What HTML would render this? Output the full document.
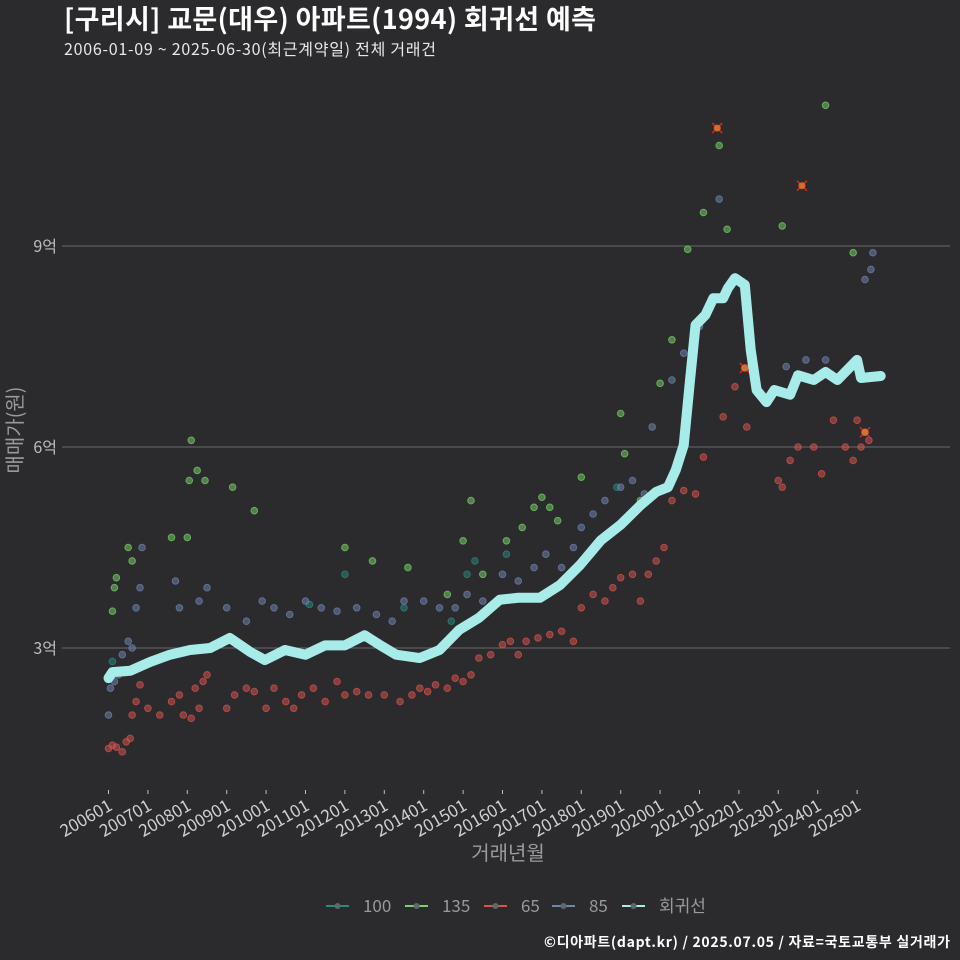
<!DOCTYPE html>
<html><head><meta charset="utf-8"><style>
html,body{margin:0;padding:0;background:#2b2b2d;}
svg{display:block;font-family:"Noto Sans CJK KR","Liberation Sans",sans-serif;}
</style></head><body>
<svg id="chart" width="960" height="960">
<rect width="960" height="960" fill="#2b2b2d"/>
<text x="64" y="29" font-size="27" font-weight="bold" fill="#ffffff" textLength="532">[구리시] 교문(대우) 아파트(1994) 회귀선 예측</text>
<text x="64" y="55" font-size="16" fill="#e8e8e8" textLength="372">2006-01-09 ~ 2025-06-30(최근계약일) 전체 거래건</text>
<g id="grid"></g>
<g id="marks"></g>
<g id="axes"></g>
<text x="508" y="860" font-size="20" fill="#9a9a9a" text-anchor="middle">거래년월</text>
<text transform="translate(22,430) rotate(-90)" font-size="20" fill="#9a9a9a" text-anchor="middle">매매가(원)</text>
<g id="legend"></g>
<text x="950" y="947" font-size="14" font-weight="bold" fill="#ffffff" text-anchor="end" textLength="406">©디아파트(dapt.kr) / 2025.07.05 / 자료=국토교통부 실거래가</text>
</svg>
<script>
const yTicks=[3,6,9];
const yTickLabels=["3억","6억","9억"];
const xTickYears=[2006,2007,2008,2009,2010,2011,2012,2013,2014,2015,2016,2017,2018,2019,2020,2021,2022,2023,2024,2025];
const xTickLabels=["200601","200701","200801","200901","201001","201101","201201","201301","201401","201501","201601","201701","201801","201901","202001","202101","202201","202301","202401","202501"];
const s65=[[2006.0,1.5],[2006.1,1.55],[2006.2,1.52],[2006.35,1.45],[2006.45,1.6],[2006.55,1.65],[2006.6,2.0],[2006.7,2.2],[2006.8,2.45],[2007.0,2.1],[2007.3,2.0],[2007.6,2.2],[2007.8,2.3],[2007.9,2.0],[2008.1,1.95],[2008.2,2.4],[2008.3,2.1],[2008.4,2.5],[2008.5,2.6],[2009.0,2.1],[2009.2,2.3],[2009.5,2.4],[2009.7,2.35],[2010.0,2.1],[2010.2,2.4],[2010.5,2.2],[2010.7,2.1],[2010.9,2.3],[2011.2,2.4],[2011.5,2.2],[2011.8,2.5],[2012.0,2.3],[2012.3,2.35],[2012.6,2.3],[2013.0,2.3],[2013.4,2.2],[2013.7,2.3],[2013.9,2.4],[2014.1,2.35],[2014.3,2.45],[2014.6,2.4],[2014.8,2.55],[2015.0,2.5],[2015.2,2.6],[2015.4,2.85],[2015.7,2.9],[2016.0,3.05],[2016.2,3.1],[2016.4,2.9],[2016.6,3.1],[2016.9,3.15],[2017.2,3.2],[2017.5,3.25],[2017.8,3.1],[2018.0,3.6],[2018.3,3.8],[2018.6,3.7],[2018.8,3.9],[2019.0,4.05],[2019.3,4.1],[2019.5,3.7],[2019.7,4.1],[2019.9,4.3],[2020.1,4.5],[2020.3,5.2],[2020.6,5.35],[2020.9,5.3],[2021.1,5.85],[2021.6,6.45],[2021.9,6.9],[2022.15,7.18],[2022.2,6.3],[2023.0,5.5],[2023.1,5.4],[2023.3,5.8],[2023.5,6.0],[2023.9,6.0],[2024.1,5.6],[2024.4,6.4],[2024.7,6.0],[2024.9,5.8],[2025.0,6.4],[2025.1,6.0],[2025.2,6.22],[2025.3,6.1]];
const s85=[[2006.0,2.0],[2006.05,2.4],[2006.15,2.5],[2006.25,2.6],[2006.35,2.9],[2006.5,3.1],[2006.6,3.0],[2006.7,3.6],[2006.8,3.9],[2006.85,4.5],[2007.7,4.0],[2007.8,3.6],[2008.3,3.7],[2008.5,3.9],[2009.0,3.6],[2009.5,3.4],[2009.9,3.7],[2010.2,3.6],[2010.6,3.5],[2011.0,3.7],[2011.4,3.6],[2011.8,3.55],[2012.3,3.6],[2012.8,3.5],[2013.2,3.4],[2013.5,3.7],[2014.0,3.7],[2014.4,3.6],[2014.8,3.6],[2015.1,3.8],[2015.5,3.7],[2016.0,4.1],[2016.4,4.0],[2016.8,4.2],[2017.1,4.4],[2017.5,4.2],[2017.8,4.5],[2018.0,4.8],[2018.3,5.0],[2018.6,5.2],[2019.0,5.4],[2019.3,5.5],[2019.6,5.3],[2019.8,6.3],[2020.3,7.0],[2020.6,7.4],[2021.0,7.8],[2021.5,9.7],[2023.2,7.2],[2023.7,7.3],[2024.2,7.3],[2025.2,8.5],[2025.35,8.65],[2025.4,8.9]];
const s135=[[2006.1,3.55],[2006.15,3.9],[2006.2,4.05],[2006.5,4.5],[2006.6,4.3],[2007.6,4.65],[2008.0,4.65],[2008.05,5.5],[2008.1,6.1],[2008.25,5.65],[2008.45,5.5],[2009.15,5.4],[2009.7,5.05],[2012.0,4.5],[2012.7,4.3],[2013.6,4.2],[2014.6,3.8],[2015.0,4.6],[2015.2,5.2],[2015.5,4.1],[2016.1,4.6],[2016.5,4.8],[2016.8,5.1],[2017.0,5.25],[2017.2,5.1],[2017.4,4.9],[2018.0,5.55],[2019.0,6.5],[2019.1,5.9],[2019.5,5.2],[2020.0,6.95],[2020.3,7.6],[2020.7,8.95],[2021.1,9.5],[2021.5,10.5],[2021.7,9.25],[2023.1,9.3],[2024.2,11.1],[2024.9,8.9]];
const s100=[[2006.1,2.8],[2011.1,3.65],[2012.0,4.1],[2013.5,3.6],[2014.7,3.4],[2015.1,4.1],[2015.3,4.3],[2016.1,4.4],[2018.9,5.4]];
const flagged=[[2021.45,10.76],[2023.6,9.9],[2022.15,7.18],[2025.2,6.22]];
const regYears=[2006.0,2006.1,2006.55,2007.05,2007.56,2008.07,2008.58,2009.08,2009.6,2009.97,2010.48,2011.0,2011.5,2012.0,2012.5,2012.9,2013.3,2013.9,2014.4,2014.9,2015.4,2015.93,2016.4,2016.95,2017.46,2017.97,2018.5,2019.0,2019.5,2019.9,2020.2,2020.4,2020.6,2020.76,2020.9,2021.15,2021.35,2021.6,2021.72,2021.9,2022.15,2022.3,2022.45,2022.7,2022.9,2023.3,2023.5,2023.9,2024.2,2024.5,2025.0,2025.1,2025.6];
const regValues=[2.55,2.64,2.66,2.79,2.9,2.97,3.0,3.15,2.94,2.82,2.97,2.9,3.04,3.04,3.19,3.04,2.9,2.85,2.97,3.27,3.45,3.72,3.75,3.75,3.94,4.24,4.61,4.84,5.13,5.33,5.4,5.66,6.03,7.0,7.82,7.97,8.22,8.22,8.37,8.52,8.42,7.45,6.85,6.67,6.85,6.78,7.07,7.0,7.12,7.0,7.3,7.03,7.06];

const NS="http://www.w3.org/2000/svg";
function xS(yr){return 108.5+(yr-2006)*39.4;}
function yS(v){return 648-(v-3)*67;}
function mk(tag,attrs,parent){const e=document.createElementNS(NS,tag);for(const k in attrs)e.setAttribute(k,attrs[k]);parent.appendChild(e);return e;}
const grid=document.getElementById('grid'),marks=document.getElementById('marks'),axes=document.getElementById('axes'),legend=document.getElementById('legend');
yTicks.forEach((t,i)=>{
  const l=mk('line',{x1:62,x2:950,y1:yS(t),y2:yS(t),stroke:'#6a6a6a','stroke-width':1},grid);
  
  
  const tx=mk('text',{x:57,y:yS(t)+6,'font-size':16,fill:'#bdbdbd','text-anchor':'end'},axes);
  tx.textContent=yTickLabels[i];
  
  
});
xTickYears.forEach((yr,i)=>{
  const x=xS(yr);
  const tk=mk('line',{x1:x,x2:x,y1:790,y2:794,stroke:'#bdbdbd','stroke-width':1},axes);
  
  
  const tx=mk('text',{transform:`translate(${x+5},${809}) rotate(-30)`,'font-size':17,fill:'#d0d0d0','text-anchor':'end'},axes);
  tx.textContent=xTickLabels[i];
  
  
});
const series=[{d:s100,c:'#2a8a80',n:'area-100'},{d:s135,c:'#79d36a',n:'area-135'},{d:s85,c:'#7185b0',n:'area-85'},{d:s65,c:'#d9534f',n:'area-65'}];
series.forEach(s=>{s.d.forEach(p=>{
  const c=mk('circle',{cx:xS(p[0]),cy:yS(p[1]),r:3.3,fill:s.c,'fill-opacity':0.5,stroke:s.c,'stroke-opacity':0.7,'stroke-width':1},marks);
  
  
});});
flagged.forEach(p=>{
  const x=xS(p[0]),y=yS(p[1]);
  const g=mk('path',{d:`M${x-5},${y-5}L${x+5},${y+5}M${x-5},${y+5}L${x+5},${y-5}`,stroke:'#e02020','stroke-width':1.5,fill:'none'},marks);
  
  
  const c=mk('circle',{cx:x,cy:y,r:3.5,fill:'#e08030','fill-opacity':0.8},marks);
  
  
});
const pts=regYears.map((yr,i)=>xS(yr)+','+yS(regValues[i])).join(' ');
const reg=mk('polyline',{points:pts,fill:'none',stroke:'#a8ecea','stroke-width':10,'stroke-linejoin':'round','stroke-linecap':'round'},marks);


const legItems=[['100','#2a8a80'],['135','#79d36a'],['65','#d9534f'],['85','#7185b0'],['회귀선','#a8ecea']];
const legX=[326,405,484,552,622];
legItems.forEach((it,i)=>{
  const x=legX[i];
  const g=mk('g',{},legend);
  
  
  mk('line',{x1:x,x2:x+23,y1:906,y2:906,stroke:it[1],'stroke-width':2},g);
  mk('circle',{cx:x+11.5,cy:906,r:3,fill:'#5a6a70'},g);
  const t=mk('text',{x:x+37,y:912,'font-size':17,fill:'#9a9a9a'},g);
  t.textContent=it[0];
});
</script>
</body></html>
